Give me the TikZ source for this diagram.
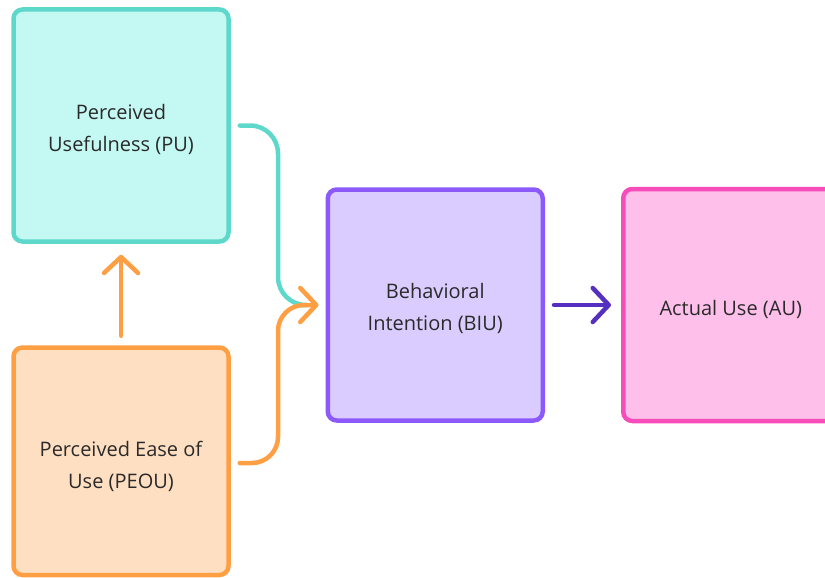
\documentclass[tikz,border=0pt]{standalone}
\usepackage{fontspec}
\setmainfont{Open Sans}
\usetikzlibrary{arrows.meta}
\definecolor{tealS}{HTML}{5ED8CB}
\definecolor{tealF}{HTML}{C4F8F3}
\definecolor{orS}{HTML}{FF9F43}
\definecolor{orF}{HTML}{FFDFC2}
\definecolor{puS}{HTML}{8C5AFA}
\definecolor{puF}{HTML}{DACCFE}
\definecolor{pkS}{HTML}{F74DBA}
\definecolor{pkF}{HTML}{FEC0EA}
\definecolor{dpu}{HTML}{5530C0}
\definecolor{txt}{HTML}{2A2A2A}
\tikzset{
  box/.style={draw, line width=4.5pt, rounded corners=9pt, minimum width=215pt, inner sep=0pt},
  lbl/.style={inner sep=0pt, align=center, text=txt, font=\fontsize{20}{32}\selectfont},
  conn/.style={line width=4.5pt, line cap=round, line join=round},
  tip/.style={-{Straight Barb[length=16pt,width=34pt,round]}},
}
\begin{document}
\begin{tikzpicture}[x=1pt,y=-1pt]
\useasboundingbox (0,0) rectangle (825,578);
\clip (0,0) rectangle (825,578);
\node[box, fill=tealF, draw=tealS, minimum height=232pt] (pu) at (121,125.5) {};
\node[box, fill=orF, draw=orS, minimum height=227.5pt] (peou) at (121,461.25) {};
\node[box, fill=puF, draw=puS, minimum height=231pt] (biu) at (435.25,305) {};
\node[box, fill=pkF, draw=pkS, minimum height=232pt] (au) at (730.75,305) {};
\node[lbl] (putxt) at ([yshift=-3.5pt]pu.center) {Perceived\\Usefulness (PU)};
\node[lbl] (peoutxt) at ([yshift=-5pt]peou.center) {Perceived Ease of\\Use (PEOU)};
\node[lbl] (biutxt) at ([yshift=-3pt]biu.center) {Behavioral\\Intention (BIU)};
\node[lbl] (autxt) at ([yshift=-4pt]au.center) {Actual Use (AU)};
% teal connector
\coordinate (tstart) at ([xshift=9pt]pu.east);
\coordinate (jtip) at ([xshift=-7pt]biu.west);
\draw[conn, draw=tealS, rounded corners=28pt] (tstart) -- (278,125.5) -- (278,305) -- ([xshift=-22pt]jtip);
% orange connector
\coordinate (ostart) at ([xshift=9pt,yshift=-1.75pt]peou.east);
\draw[conn, draw=orS, rounded corners=26pt, tip] (ostart) -- (278,463) -- (278,305) -- (jtip);
% up arrow
\draw[conn, draw=orS, tip] ([yshift=9.5pt]peou.north) -- ([yshift=-11pt]pu.south);
% purple arrow
\draw[conn, draw=dpu, tip] ([xshift=9pt]biu.east) -- ([xshift=-10pt]au.west);
\end{tikzpicture}
\end{document}
